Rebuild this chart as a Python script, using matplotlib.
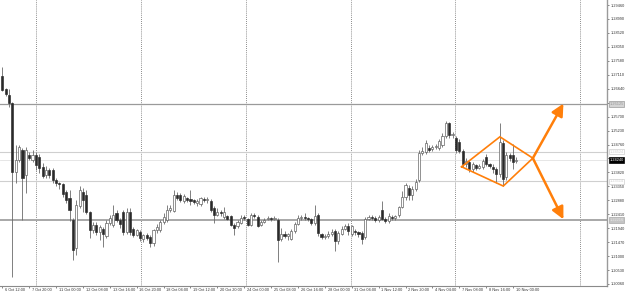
import numpy as np
import matplotlib
matplotlib.use("Agg")
import matplotlib.pyplot as plt
from matplotlib.transforms import blended_transform_factory

# GBPUSD H4, 6 Oct - 10 Nov (bar index 0 = 6 Oct 12:00)
opens = [
    1.2707, 1.2663, 1.2643, 1.2616, 1.2383, 1.2424, 1.2458, 1.2373, 1.2441, 1.2424,
    1.2441, 1.2434, 1.2400, 1.2373, 1.2390, 1.2390, 1.2356, 1.2346, 1.2343, 1.2316,
    1.2296, 1.2222, 1.2127, 1.2269, 1.2316, 1.2306, 1.2249, 1.2188, 1.2205, 1.2181,
    1.2191, 1.2168, 1.2212, 1.2205, 1.2245, 1.2222, 1.2249, 1.2181, 1.2249, 1.2191,
    1.2171, 1.2181, 1.2158, 1.2171, 1.2164, 1.2144, 1.2188, 1.2188, 1.2215, 1.2222,
    1.2255, 1.2252, 1.2306, 1.2306, 1.2286, 1.2296, 1.2293, 1.2289, 1.2279, 1.2276,
    1.2293, 1.2289, 1.2284, 1.2262, 1.2240, 1.2250, 1.2232, 1.2235, 1.2235, 1.2205,
    1.2200, 1.2212, 1.2232, 1.2225, 1.2205, 1.2240, 1.2232, 1.2205, 1.2215, 1.2225,
    1.2228, 1.2225, 1.2222, 1.2158, 1.2175, 1.2168, 1.2158, 1.2185, 1.2208, 1.2228,
    1.2232, 1.2228, 1.2225, 1.2212, 1.2238, 1.2175, 1.2165, 1.2168, 1.2175, 1.2185,
    1.2150, 1.2175, 1.2192, 1.2200, 1.2175, 1.2185, 1.2180, 1.2178, 1.2165, 1.2225,
    1.2232, 1.2228, 1.2222, 1.2255, 1.2225, 1.2218, 1.2232, 1.2228, 1.2238, 1.2265,
    1.2300, 1.2330, 1.2305, 1.2325, 1.2356, 1.2448, 1.2451, 1.2465, 1.2461, 1.2468,
    1.2465, 1.2474, 1.2505, 1.2549, 1.2508, 1.2498, 1.2485, 1.2455, 1.2412, 1.2418,
    1.2393, 1.2408, 1.2398, 1.2400, 1.2435, 1.2410, 1.2400, 1.2392, 1.2375, 1.2480,
    1.2365, 1.2440, 1.2440, 1.2420,
]
highs = [
    1.2737, 1.2666, 1.2663, 1.2619, 1.2474, 1.2474, 1.2464, 1.2468, 1.2451, 1.2458,
    1.2451, 1.2444, 1.2414, 1.2404, 1.2397, 1.2397, 1.2363, 1.2350, 1.2346, 1.2323,
    1.2323, 1.2230, 1.2289, 1.2336, 1.2330, 1.2323, 1.2252, 1.2215, 1.2215, 1.2205,
    1.2198, 1.2222, 1.2238, 1.2272, 1.2255, 1.2228, 1.2255, 1.2262, 1.2262, 1.2198,
    1.2191, 1.2188, 1.2175, 1.2178, 1.2171, 1.2191, 1.2208, 1.2222, 1.2245, 1.2272,
    1.2272, 1.2323, 1.2316, 1.2313, 1.2310, 1.2300, 1.2323, 1.2293, 1.2293, 1.2300,
    1.2300, 1.2300, 1.2293, 1.2269, 1.2262, 1.2255, 1.2265, 1.2240, 1.2240, 1.2210,
    1.2222, 1.2240, 1.2238, 1.2228, 1.2245, 1.2245, 1.2238, 1.2222, 1.2230, 1.2235,
    1.2232, 1.2235, 1.2228, 1.2195, 1.2185, 1.2178, 1.2190, 1.2215, 1.2238, 1.2240,
    1.2245, 1.2232, 1.2230, 1.2272, 1.2245, 1.2178, 1.2175, 1.2185, 1.2190, 1.2190,
    1.2185, 1.2200, 1.2208, 1.2210, 1.2205, 1.2190, 1.2185, 1.2185, 1.2232, 1.2240,
    1.2238, 1.2235, 1.2238, 1.2284, 1.2232, 1.2245, 1.2238, 1.2240, 1.2270, 1.2320,
    1.2345, 1.2340, 1.2335, 1.2360, 1.2458, 1.2468, 1.2491, 1.2474, 1.2474, 1.2478,
    1.2495, 1.2515, 1.2556, 1.2552, 1.2518, 1.2505, 1.2495, 1.2460, 1.2430, 1.2425,
    1.2418, 1.2412, 1.2412, 1.2428, 1.2445, 1.2415, 1.2410, 1.2400, 1.2549, 1.2490,
    1.2450, 1.2448, 1.2478, 1.2435,
]
lows = [
    1.2656, 1.2640, 1.2602, 1.2030, 1.2346, 1.2417, 1.2222, 1.2313, 1.2424, 1.2417,
    1.2390, 1.2380, 1.2363, 1.2363, 1.2363, 1.2346, 1.2336, 1.2326, 1.2300, 1.2279,
    1.2218, 1.2087, 1.2104, 1.2262, 1.2249, 1.2242, 1.2161, 1.2178, 1.2171, 1.2154,
    1.2131, 1.2161, 1.2205, 1.2198, 1.2215, 1.2195, 1.2171, 1.2175, 1.2171, 1.2164,
    1.2168, 1.2151, 1.2148, 1.2154, 1.2131, 1.2134, 1.2178, 1.2181, 1.2208, 1.2215,
    1.2249, 1.2249, 1.2289, 1.2282, 1.2279, 1.2282, 1.2272, 1.2276, 1.2269, 1.2269,
    1.2282, 1.2279, 1.2249, 1.2212, 1.2235, 1.2235, 1.2225, 1.2220, 1.2200, 1.2171,
    1.2195, 1.2208, 1.2222, 1.2200, 1.2200, 1.2228, 1.2198, 1.2200, 1.2212, 1.2220,
    1.2218, 1.2220, 1.2081, 1.2150, 1.2161, 1.2154, 1.2154, 1.2178, 1.2205, 1.2222,
    1.2222, 1.2218, 1.2205, 1.2205, 1.2168, 1.2158, 1.2158, 1.2162, 1.2168, 1.2118,
    1.2140, 1.2170, 1.2188, 1.2171, 1.2168, 1.2172, 1.2165, 1.2140, 1.2158, 1.2222,
    1.2222, 1.2215, 1.2215, 1.2220, 1.2212, 1.2212, 1.2222, 1.2222, 1.2232, 1.2262,
    1.2290, 1.2290, 1.2290, 1.2318, 1.2350, 1.2440, 1.2445, 1.2451, 1.2455, 1.2461,
    1.2458, 1.2468, 1.2498, 1.2498, 1.2498, 1.2448, 1.2448, 1.2400, 1.2400, 1.2385,
    1.2385, 1.2390, 1.2392, 1.2392, 1.2405, 1.2398, 1.2380, 1.2345, 1.2365, 1.2336,
    1.2355, 1.2420, 1.2392, 1.2415,
]
closes = [
    1.2660, 1.2646, 1.2616, 1.2383, 1.2424, 1.2468, 1.2363, 1.2458, 1.2431, 1.2441,
    1.2407, 1.2397, 1.2370, 1.2390, 1.2373, 1.2356, 1.2346, 1.2343, 1.2310, 1.2289,
    1.2255, 1.2121, 1.2272, 1.2323, 1.2289, 1.2249, 1.2188, 1.2205, 1.2181, 1.2198,
    1.2175, 1.2212, 1.2228, 1.2238, 1.2222, 1.2208, 1.2181, 1.2249, 1.2181, 1.2171,
    1.2188, 1.2161, 1.2171, 1.2161, 1.2144, 1.2188, 1.2198, 1.2215, 1.2232, 1.2255,
    1.2262, 1.2306, 1.2296, 1.2289, 1.2303, 1.2289, 1.2286, 1.2282, 1.2286, 1.2296,
    1.2289, 1.2293, 1.2255, 1.2238, 1.2250, 1.2245, 1.2250, 1.2225, 1.2205, 1.2195,
    1.2215, 1.2230, 1.2228, 1.2205, 1.2240, 1.2235, 1.2202, 1.2215, 1.2222, 1.2228,
    1.2225, 1.2228, 1.2154, 1.2175, 1.2168, 1.2175, 1.2185, 1.2208, 1.2228, 1.2232,
    1.2228, 1.2225, 1.2212, 1.2235, 1.2178, 1.2165, 1.2168, 1.2175, 1.2180, 1.2150,
    1.2178, 1.2192, 1.2200, 1.2185, 1.2200, 1.2180, 1.2175, 1.2158, 1.2225, 1.2232,
    1.2228, 1.2222, 1.2232, 1.2225, 1.2218, 1.2235, 1.2228, 1.2235, 1.2265, 1.2300,
    1.2340, 1.2305, 1.2325, 1.2350, 1.2448, 1.2455, 1.2480, 1.2458, 1.2468, 1.2471,
    1.2488, 1.2505, 1.2549, 1.2508, 1.2512, 1.2458, 1.2455, 1.2410, 1.2420, 1.2395,
    1.2410, 1.2398, 1.2405, 1.2420, 1.2410, 1.2405, 1.2392, 1.2375, 1.2485, 1.2360,
    1.2440, 1.2430, 1.2418, 1.2424,
]

date_idx = [0, 8, 16, 24, 32, 40, 48, 56, 64, 72, 80, 88, 96, 104, 112, 120, 128, 136, 144, 152]
date_labels = [
    "6 Oct 12:00", "7 Oct 20:00", "11 Oct 00:00", "12 Oct 08:00", "13 Oct 16:00",
    "16 Oct 20:00", "18 Oct 04:00", "19 Oct 12:00", "20 Oct 20:00", "24 Oct 00:00",
    "25 Oct 08:00", "26 Oct 16:00", "28 Oct 00:00", "31 Oct 04:00", "1 Nov 12:00",
    "2 Nov 20:00", "4 Nov 04:00", "7 Nov 08:00", "8 Nov 16:00", "10 Nov 00:00",
]
price_ticks = [
    1.29460, 1.28990, 1.28520, 1.28050, 1.27580, 1.27110, 1.26640, 1.26170,
    1.25700, 1.25230, 1.24760, 1.24290, 1.23820, 1.23350, 1.22880, 1.22410,
    1.21940, 1.21470, 1.21000, 1.20530, 1.20060,
]
hidden_ticks = [1.26170, 1.24290]

grid_pos = [10.0, 41.3, 72.5, 103.8, 134.8, 172.0]

levels = [1.26125, 1.24524, 1.24240, 1.23514, 1.22216]
level_colors = ["#9a9a9a", "#cfcfcf", "#e2e2e2", "#cfcfcf", "#a8a8a8"]
level_widths = [0.9, 0.8, 0.6, 0.8, 1.4]
box_fc = ["#d4d4d4", "#ffffff", "#000000", "#ffffff", "#c4c4c4"]
box_ec = ["#9a9a9a", "#cfcfcf", "#000000", "#cfcfcf", "#a8a8a8"]
box_tc = ["#9a9a9a", "#d0d0d0", "#ffffff", "#d0d0d0", "#e8e8e8"]

diamond_x = [136.7, 148.1, 157.9, 149.1, 136.7]
diamond_y = [1.2401, 1.2502, 1.2430, 1.2336, 1.2401]
arrow_start = (157.9, 1.2430)
arrow_ends = [(167.0, 1.2614), (167.0, 1.2224)]

ORANGE = "#ff7f0a"
FONT = ["Liberation Sans", "DejaVu Sans"]
FS = 2.8

o = np.array(opens)
h = np.array(highs)
l = np.array(lows)
c = np.array(closes)
x = np.arange(len(o))
up = c >= o

fig = plt.figure(figsize=(6.25, 2.94), dpi=100)
ax = fig.add_axes([0, 8.5 / 294, 607 / 625, 285.5 / 294])
ax.set_xlim(-0.685, 179.97)
ax.set_ylim(1.20009, 1.2963)

for xv in grid_pos:
    ax.axvline(xv, color="#666666", lw=0.6, ls=(0, (1, 1.5)), zorder=1)

for lev, col, lw in zip(levels, level_colors, level_widths):
    ax.axhline(lev, color=col, lw=lw, zorder=1)

# candles
ax.vlines(x, l, h, color="#6a6a6a", lw=0.6, zorder=2)
ax.bar(x[up], (c - o)[up], bottom=o[up], width=0.62,
       color="white", edgecolor="#555555", lw=0.45, zorder=3)
ax.bar(x[~up], (o - c)[~up], bottom=c[~up], width=0.62,
       color="#2a2a2a", edgecolor="#2a2a2a", lw=0.45, zorder=3)

# diamond pattern and breakout arrows
ax.plot(diamond_x, diamond_y, color=ORANGE, lw=1.2, zorder=4, solid_joinstyle="miter")
for end in arrow_ends:
    ax.annotate("", xy=end, xytext=arrow_start,
                arrowprops=dict(arrowstyle="-|>,head_length=0.8,head_width=0.4",
                                color=ORANGE, lw=1.8, shrinkA=0, shrinkB=0,
                                mutation_scale=9), zorder=4)

# axes styling
for side in ["left", "top"]:
    ax.spines[side].set_visible(False)
ax.spines["right"].set_color("#9a9a9a")
ax.spines["right"].set_linewidth(1.0)
ax.spines["bottom"].set_color("#8a8a8a")
ax.spines["bottom"].set_linewidth(0.8)

ax.yaxis.tick_right()
ax.set_yticks(price_ticks)
ax.set_yticklabels(["" if p in hidden_ticks else f"{p:.5f}" for p in price_ticks],
                   fontsize=FS, family=FONT, color="#333333")
ax.tick_params(axis="y", length=1.5, width=0.5, pad=1, colors="#555555")
for t in ax.get_yticklabels():
    t.set_color("#333333")

ax.set_xticks(date_idx)
ax.set_xticklabels([])
ax.tick_params(axis="x", length=1.5, width=0.5, colors="#555555")
trans = blended_transform_factory(ax.transData, ax.transAxes)
for idx, lab in zip(date_idx, date_labels):
    ax.text(idx + 0.8, -0.009, lab, transform=trans, fontsize=FS, family=FONT,
            color="#333333", ha="left", va="top", clip_on=False)

# price labels on the right axis
ytrans = blended_transform_factory(ax.transAxes, ax.transData)
for lev, fc, ec, tc in zip(levels, box_fc, box_ec, box_tc):
    ax.text(1.004, lev, f"{lev:.5f}", transform=ytrans, fontsize=FS, family=FONT,
            color=tc, ha="left", va="center", clip_on=False, zorder=6,
            bbox=dict(boxstyle="square,pad=0.2", fc=fc, ec=ec, lw=0.5))

fig.savefig("out.png", dpi=100)
